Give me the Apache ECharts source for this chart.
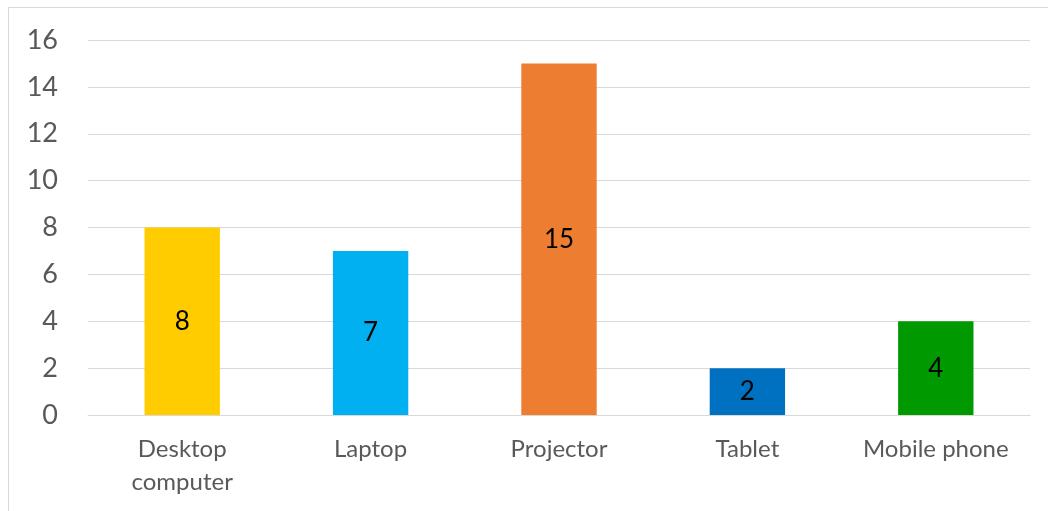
<!DOCTYPE html>
<html>
<head>
<meta charset="utf-8">
<script src="https://cdn.jsdelivr.net/npm/echarts@6/dist/echarts.min.js"></script>
<style>
  html, body { margin: 0; padding: 0; background: #fff; }
  #chart { width: 1048px; height: 511px; }
</style>
</head>
<body>
<div id="chart"></div>
<script>
    // 设备类别
    var categories = ['Desktop computer', 'Laptop', 'Projector', 'Tablet', 'Mobile phone'];
    var values = [8, 7, 15, 2, 4];
    var barColors = ['#FFCC00', '#00B0F0', '#ED7D31', '#0070C0', '#009900'];
    var yTicks = [0, 2, 4, 6, 8, 10, 12, 14, 16];

    var myChart = echarts.init(document.getElementById('chart'));
    var font = 'Lato, "Open Sans", sans-serif';

    var option = {
        animation: false,
        graphic: [{
            type: 'rect',
            shape: { x: 8.5, y: 7.5, width: 1200, height: 700 },
            style: { fill: 'none', stroke: '#d9d9d9', lineWidth: 1 },
            silent: true
        }],
        grid: { left: 88, right: 18, top: 40, bottom: 96 },
        xAxis: {
            type: 'category',
            data: categories,
            axisLine: { lineStyle: { color: '#d9d9d9', width: 1 } },
            axisTick: { show: false },
            axisLabel: {
                interval: 0,
                hideOverlap: false,
                color: '#595959',
                fontSize: 24,
                fontFamily: font,
                margin: 18,
                lineHeight: 33,
                formatter: function (v) {
                    // 只有第一类需要换行
                    return v === 'Desktop computer' ? 'Desktop\ncomputer' : v;
                }
            }
        },
        yAxis: {
            type: 'value',
            min: yTicks[0],
            max: yTicks[yTicks.length - 1],
            interval: 2,
            axisLine: { show: false },
            axisTick: { show: false },
            splitLine: { lineStyle: { color: '#d9d9d9', width: 1 } },
            axisLabel: {
                color: '#595959',
                fontSize: 27,
                fontFamily: font,
                margin: 30
            }
        },
        series: [{
            type: 'bar',
            barWidth: '40%',
            data: values.map(function (v, i) {
                return { value: v, itemStyle: { color: barColors[i] } };
            }),
            label: {
                show: true,
                position: 'inside',
                color: '#000',
                fontSize: 26,
                fontFamily: font
            }
        }]
    };
    myChart.setOption(option);
</script>
</body>
</html>
